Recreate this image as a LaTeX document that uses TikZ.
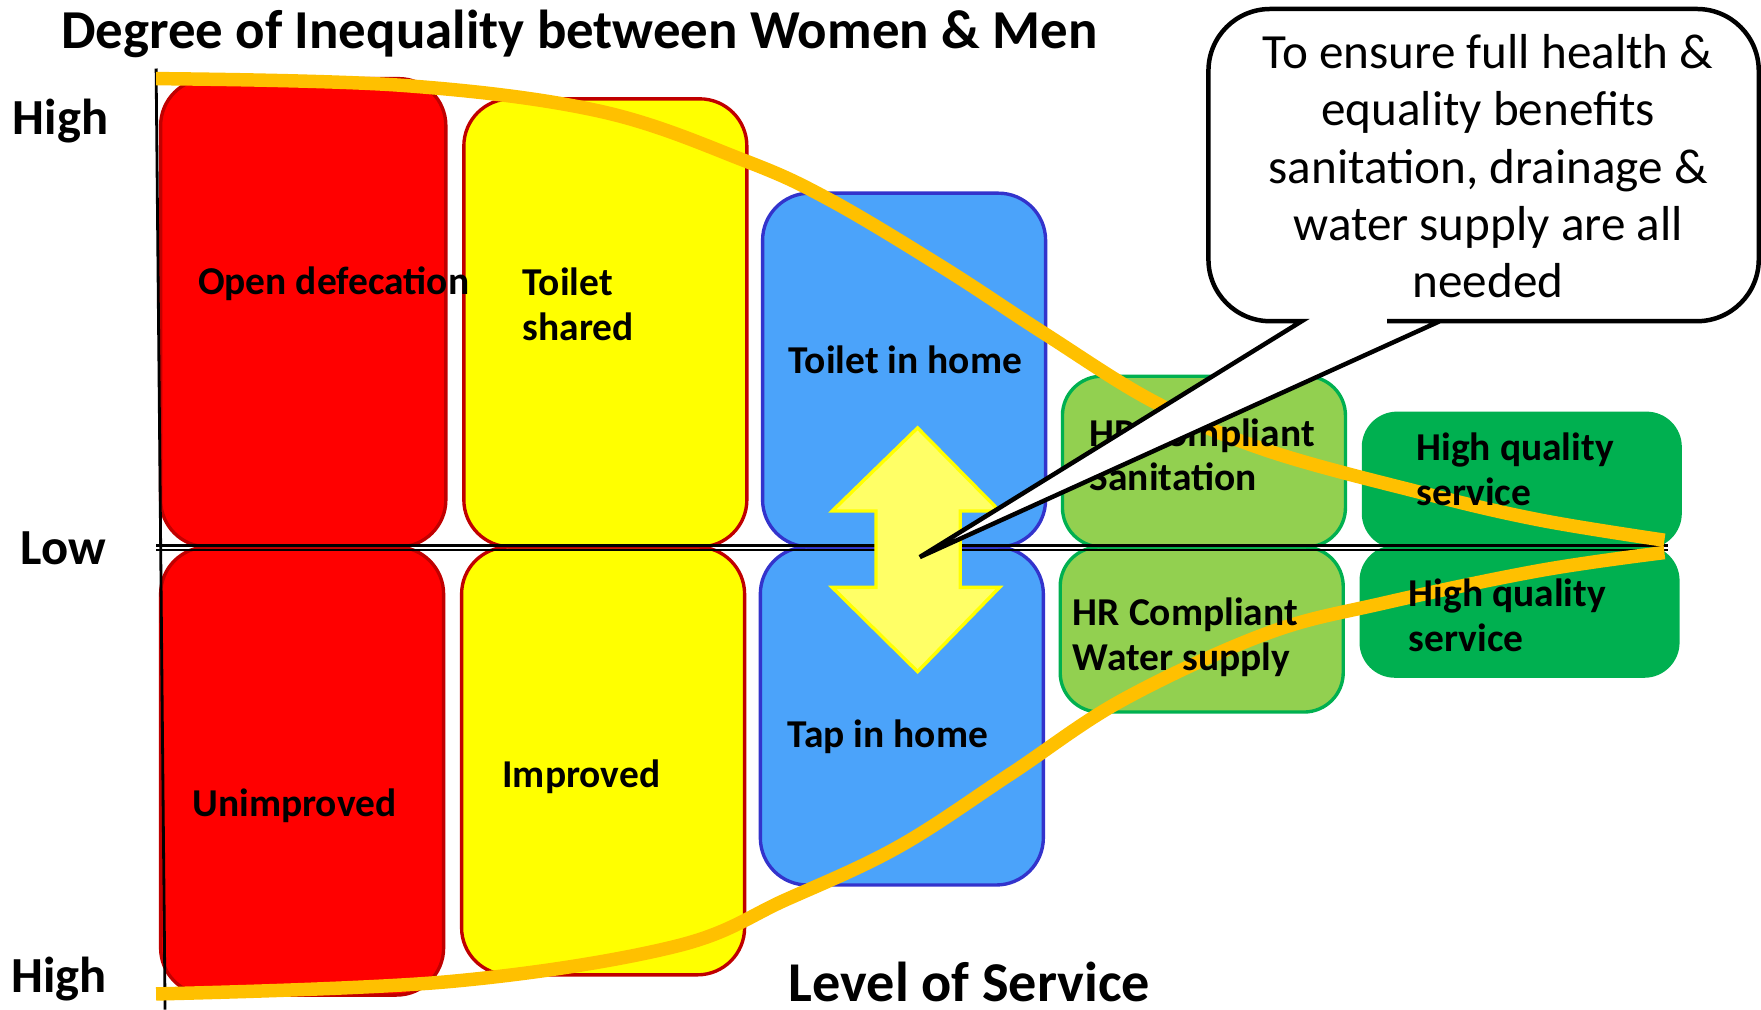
\documentclass[tikz,border=0pt]{standalone}
\usepackage{fontspec}
\setmainfont{Carlito}
\definecolor{cellred}{HTML}{FF0000}
\definecolor{cellyellow}{HTML}{FFFF00}
\definecolor{cellblue}{HTML}{4BA3FA}
\definecolor{celllime}{HTML}{92D050}
\definecolor{cellgreen}{HTML}{00B050}
\definecolor{edgered}{HTML}{C00000}
\definecolor{edgeblue}{HTML}{3333CC}
\definecolor{curveorange}{HTML}{FFC000}
\definecolor{arrowfill}{HTML}{FFFF66}
\tikzset{
  cell/.style={line width=0.6mm, rounded corners=8.4mm},
  lab/.style={font=\bfseries\fontsize{20pt}{22.6pt}\selectfont, anchor=base west, inner sep=0pt, align=left},
  axislab/.style={font=\bfseries\fontsize{25.6pt}{30pt}\selectfont, anchor=base west, inner sep=0pt},
  curve/.style={draw=curveorange, line width=2.4mm},
}
\begin{document}
\begin{tikzpicture}[x=0.2mm, y=-0.2mm]
  \useasboundingbox (0,0) rectangle (1568,899);
  \clip (0,0) rectangle (1568,899);
  % lower row
  \draw[cell, fill=cellred, draw=edgered] (143,487) rectangle (395,886);
  \draw[cell, fill=cellyellow, draw=edgered] (411,487) rectangle (663,868);
  \draw[cell, fill=cellblue, draw=edgeblue] (677,487) rectangle (929,788);
  \draw[cell, rounded corners=7mm, fill=celllime, draw=cellgreen] (944,487) rectangle (1196,634);
  \draw[cell, rounded corners=6mm, fill=cellgreen, draw=cellgreen] (1212,487) rectangle (1494,602);
  % upper row
  \draw[cell, fill=cellred, draw=edgered] (143,70) rectangle (397,487);
  \draw[cell, fill=cellyellow, draw=edgered] (413,88) rectangle (665,487);
  \draw[cell, fill=cellblue, draw=edgeblue] (679,172) rectangle (931,487);
  \draw[cell, rounded corners=7mm, fill=celllime, draw=cellgreen] (946,335) rectangle (1198,487);
  \draw[cell, rounded corners=6mm, fill=cellgreen, draw=cellgreen] (1214,368) rectangle (1496,487);
  % axes
  \coordinate (lowL) at (139,485.5);
  \coordinate (lowR) at (1485,485.5);
  \draw[line width=0.6mm] (lowL) -- (lowR);
  \draw[line width=0.4mm] ([yshift=-0.9mm]lowL) -- ([yshift=-0.9mm]lowR);
  \coordinate (axtop) at (139,61);
  \coordinate (axbot) at (147,899);
  \draw[line width=0.5mm] (axtop) -- (axbot);
  % up and down arrow
  \draw[line width=0.6mm, fill=arrowfill, draw=cellyellow]
    (817,381) -- (890,455) -- (855,455) -- (855,523) -- (890,523) -- (817,598)
    -- (741,523) -- (780,523) -- (780,455) -- (741,455) -- cycle;
  % curves
  \draw[curve] plot[smooth, tension=0.6] coordinates {(139,70) (358,76) (534,99) (663,143)
    (739,178) (841,239) (930,297) (1028,358) (1128,401) (1267,439) (1371,463) (1482,481)};
  \draw[curve] plot[smooth, tension=0.6] coordinates {(139,885) (400,874) (600,843) (700,801)
    (800,754) (900,689) (1000,623) (1128,564) (1232,537) (1371,508) (1482,492)};
  % labels
  \node[lab] (opendef) at (176,262) {Open defecation};
  \node[lab] (shared) at (465,303) {Toilet\\shared};
  \node[lab] (toilethome) at (702,333) {Toilet in home};
  \node[lab] (hrsan) at (970,437) {HR Compliant\\Sanitation};
  \node[lab] (hqtop) at (1261,450) {High quality\\service};
  \node[lab] (hrwater) at (955,597) {HR Compliant\\Water supply};
  \node[lab] (hqbot) at (1254,580) {High quality\\service};
  \node[lab] (unimp) at (171,727) {Unimproved};
  \node[lab] (imp) at (447,701) {Improved};
  \node[lab] (taphome) at (701,666) {Tap in home};
  % axis texts
  \node[axislab, font=\bfseries\fontsize{27.8pt}{30pt}\selectfont] (title) at (54,43) {Degree of Inequality between Women \& Men};
  \node[axislab] (hightop) at (11,120) {High};
  \node[axislab] (low) at (18,503) {Low};
  \node[axislab] (highbot) at (10,884) {High};
  \node[axislab, font=\bfseries\fontsize{28.5pt}{30pt}\selectfont] (service) at (702,892) {Level of Service};
  % callout
  \coordinate (tip) at (819,496);
  \draw[line width=0.8mm, fill=white, line join=miter]
    (tip) -- (1159,286) -- (1150,286) [rounded corners=11mm] -- (1076,286) -- (1076,8)
    -- (1566,8) -- (1566,286) -- (1290,286) [sharp corners] -- (1282,286) -- cycle;
  \node[font=\fontsize{24.9pt}{29pt}\selectfont, anchor=base, inner sep=0pt, align=center]
    (note) at (1325,265) {To ensure full health \&\\equality benefits\\sanitation, drainage \&\\water supply are all\\needed};
\end{tikzpicture}
\end{document}
